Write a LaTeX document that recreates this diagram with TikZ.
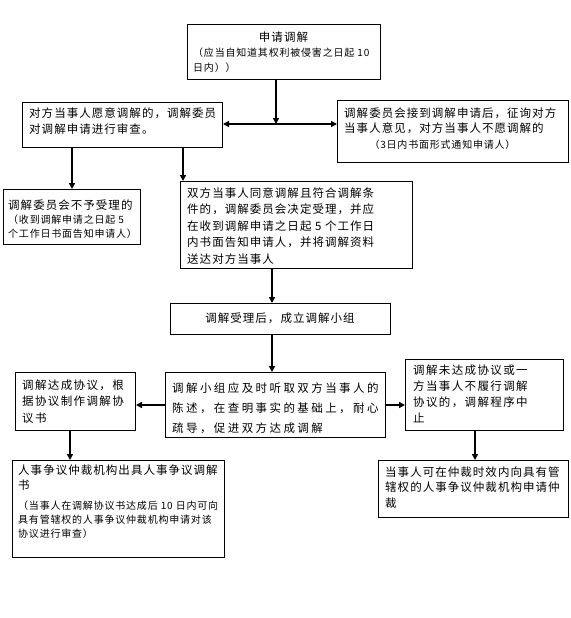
\documentclass[tikz,border=0pt]{standalone}
\usepackage{fontspec}
\usetikzlibrary{arrows.meta}
\newfontfamily\cjkN[LetterSpace=9]{Noto Sans CJK SC}
\newfontfamily\cjkW[LetterSpace=21]{Noto Sans CJK SC}
\newfontfamily\cjkM[LetterSpace=12]{Noto Sans CJK SC}
\newfontfamily\cjkS[LetterSpace=8]{Noto Sans CJK SC}
\tikzset{
  box/.style={draw=black, line width=1pt, anchor=north west, inner sep=0pt},
  txt/.style={anchor=north west, inner sep=0pt, align=left, font=\cjkN\fontsize{11.5}{16}\selectfont},
  sml/.style={anchor=north west, inner sep=0pt, align=left},
  arr/.style={line width=1.6pt, -{Triangle[length=6pt,width=6pt]}},
  ln/.style={line width=1.6pt}
}
\newcommand{\mkbox}[5]{\node[box, minimum width=#4pt-#2pt, minimum height=#5pt-#3pt] (#1) at (#2,#3) {};}
\begin{document}
\begin{tikzpicture}[x=1pt,y=-1pt]
\fill[white] (0,0) rectangle (570,618);
\useasboundingbox (0,0) rectangle (570,618);
% boxes
\mkbox{b1}{187}{24}{380}{79}
\mkbox{b2}{22}{102}{222}{147}
\mkbox{b3}{337}{100}{568}{162}
\mkbox{b4}{3}{189}{140}{244}
\mkbox{b5}{180}{181}{412}{268}
\mkbox{b6}{170}{303}{390}{334}
\mkbox{b7}{165}{372}{385}{437}
\mkbox{b8}{15}{372}{135}{430}
\mkbox{b9}{405}{359}{563}{430}
\mkbox{b10}{12}{460}{224}{557}
\mkbox{b11}{378}{460}{568}{517}
% texts
\node[inner sep=0pt, font=\cjkN\fontsize{11.5}{16}\selectfont] (t1a) at (283.5,37) {申请调解};
\node[sml, font=\cjkS\fontsize{10}{15}\selectfont] (t1b) at (193,48) {（应当自知道其权利被侵害之日起 10\\日内））};
\node[txt, font=\cjkN\fontsize{11.5}{16}\selectfont] (t2) at (29,107.5) {对方当事人愿意调解的，调解委员\\对调解申请进行审查。};
\node[txt, font=\cjkN\fontsize{11.5}{15.5}\selectfont] (t3a) at (344,107.5) {调解委员会接到调解申请后，征询对方\\当事人意见，对方当事人不愿调解的};
\node[inner sep=0pt, font=\cjkS\fontsize{10}{15}\selectfont] (t3b) at (442.5,145) {（3日内书面形式通知申请人）};
\node[inner sep=0pt, anchor=west, font=\cjkN\fontsize{11.5}{16}\selectfont] (t4a) at (8,205) {调解委员会不予受理的};
\node[sml, font=\cjkS\fontsize{10}{13.5}\selectfont] (t4b) at (8,215) {（收到调解申请之日起 5\\个工作日书面告知申请人）};
\node[txt, font=\cjkN\fontsize{11.5}{16.4}\selectfont] (t5) at (187,187.5) {双方当事人同意调解且符合调解条\\件的，调解委员会决定受理，并应\\在收到调解申请之日起 5 个工作日\\内书面告知申请人，并将调解资料\\送达对方当事人};
\node[inner sep=0pt, font=\cjkN\fontsize{11.5}{16}\selectfont] (t6) at (280,318) {调解受理后，成立调解小组};
\node[txt, font=\cjkW\fontsize{11.5}{20}\selectfont] (t7) at (172,382.5) {调解小组应及时听取双方当事人的\\陈述，在查明事实的基础上，耐心\\疏导，促进双方达成调解};
\node[txt, font=\cjkM\fontsize{11.5}{16.5}\selectfont] (t8) at (22,379.5) {调解达成协议，根\\据协议制作调解协\\议书};
\node[txt, font=\cjkM\fontsize{11.5}{16}\selectfont] (t9) at (413,364.5) {调解未达成协议或一\\方当事人不履行调解\\协议的，调解程序中\\止};
\node[txt, font=\cjkN\fontsize{11.5}{15}\selectfont] (t10a) at (18,464.5) {人事争议仲裁机构出具人事争议调解\\书};
\node[sml, font=\cjkS\fontsize{10}{14}\selectfont] (t10b) at (18,500.5) {（当事人在调解协议书达成后 10 日内可向\\具有管辖权的人事争议仲裁机构申请对该\\协议进行审查）};
\node[txt, font=\cjkN\fontsize{11.5}{15.5}\selectfont] (t11) at (385,466.5) {当事人可在仲裁时效内向具有管\\辖权的人事争议仲裁机构申请仲\\裁};
% connectors
\coordinate (j1) at (276,124);
\draw[arr] (b1.south -| j1) -- (j1);
\draw[arr] (j1) -- (b2.east |- j1);
\draw[arr] (j1) -- (b3.west |- j1);
\draw[arr] (b2.south -| 72,0) -- (b4.north -| 72,0);
\draw[arr] (b2.south -| 183,0) -- (b5.north -| 183,0);
\draw[arr] (b5.south -| 272,0) -- (b6.north -| 272,0);
\draw[arr] (b6.south -| 272,0) -- (b7.north -| 272,0);
\draw[arr] (b7.west |- 0,405) -- (b8.east |- 0,405);
\draw[arr] (b7.east |- 0,405) -- (b9.west |- 0,405);
\draw[arr] (b8.south -| 70,0) -- (b10.north -| 70,0);
\draw[arr] (b9.south -| 475,0) -- (b11.north -| 475,0);
\end{tikzpicture}
\end{document}
